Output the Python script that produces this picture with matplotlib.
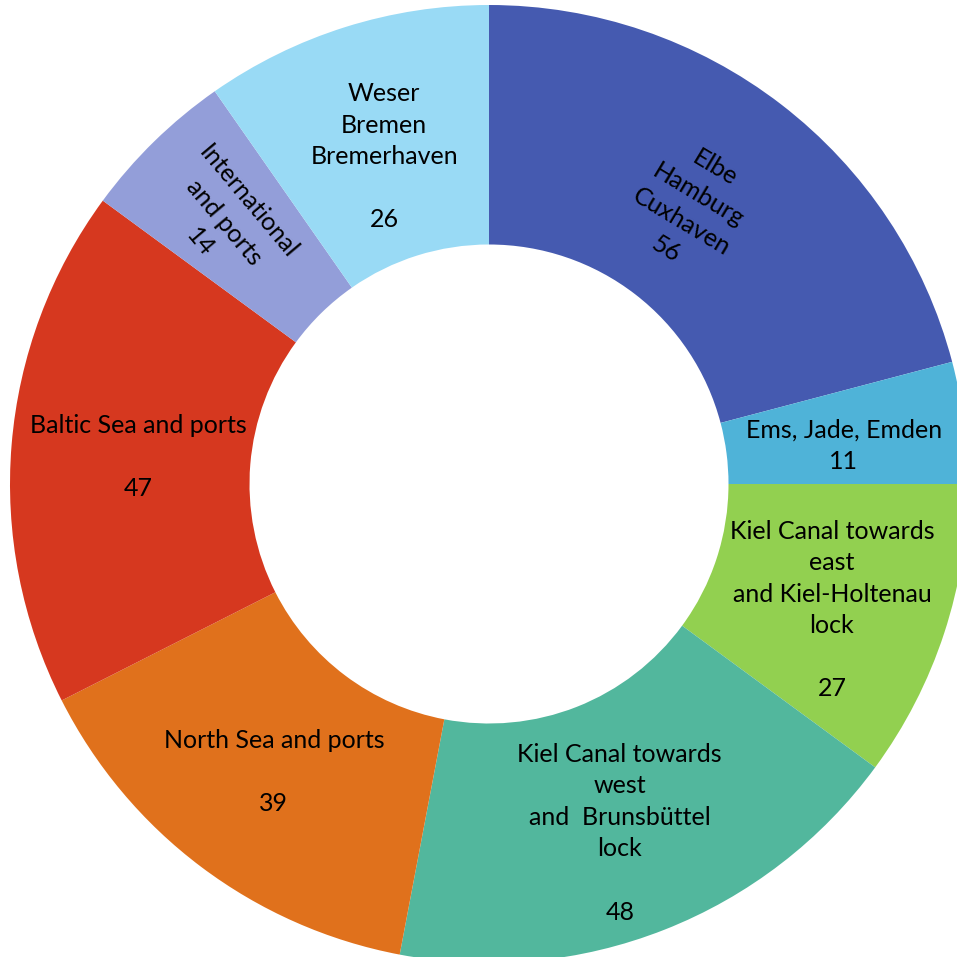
import matplotlib
matplotlib.use("Agg")
import matplotlib.pyplot as plt

labels = [
    "Elbe\nHamburg\nCuxhaven",
    "Ems, Jade, Emden",
    "Kiel Canal towards\neast\nand Kiel-Holtenau\nlock\n",
    "Kiel Canal towards\nwest\nand  Brunsbüttel\nlock\n",
    "North Sea and ports\n",
    "Baltic Sea and ports\n",
    "International\nand ports",
    "Weser\nBremen\nBremerhaven\n",
]
values = [56, 11, 27, 48, 39, 47, 14, 26]
colors = ["#455AB0", "#4FB3D8", "#92D050", "#52B79D",
          "#E0711C", "#D6381F", "#939ED9", "#99DAF5"]

# label layout (data coords of the unit pie) and rotations
label_pos = [(0.42, 0.575), (0.741, 0.079), (0.716, -0.263), (0.273, -0.729),
             (-0.449, -0.601), (-0.733, 0.056), (-0.553, 0.547), (-0.219, 0.683)]
label_rot = [-31, 0, 0, 0, 0, 0, -50, 0]

W = H = 957
fig = plt.figure(figsize=(W / 100, H / 100), dpi=100)
cx, cy, r = 489, 957 - 484, 479
ax = fig.add_axes([(cx - r) / W, (cy - r) / H, 2 * r / W, 2 * r / H])

ax.pie(values, colors=colors, startangle=90, counterclock=False,
       radius=1.0, wedgeprops=dict(width=0.5, linewidth=0))
ax.set_xlim(-1, 1)
ax.set_ylim(-1, 1)
ax.set_aspect("equal", adjustable="box")
ax.axis("off")

for lab, v, (x, y), rot in zip(labels, values, label_pos, label_rot):
    ax.text(x, y, f"{lab}\n{v}", ha="center", va="center", rotation=rot,
            rotation_mode="anchor", multialignment="center",
            fontsize=18, family=["Lato", "DejaVu Sans"], color="black",
            linespacing=1.45)

fig.savefig("out.png", dpi=100)
